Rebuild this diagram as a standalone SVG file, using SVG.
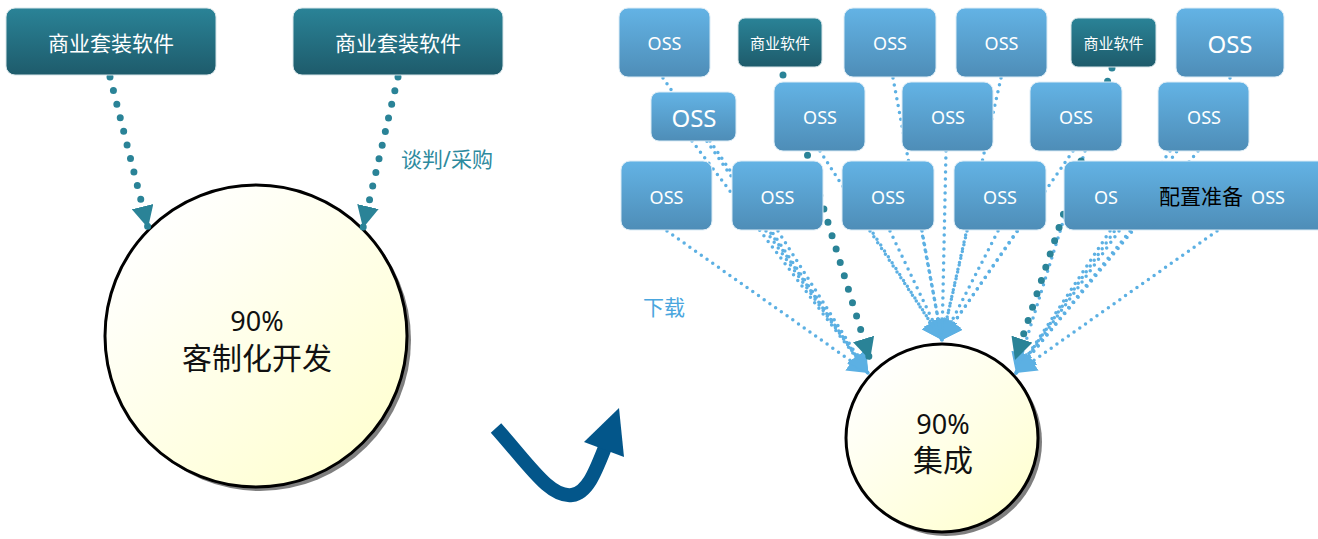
<svg xmlns="http://www.w3.org/2000/svg" width="1318" height="539" viewBox="0 0 1318 539">
<defs>
<linearGradient id="gTeal" x1="0" y1="0" x2="0" y2="1"><stop offset="0" stop-color="#2a8397"/><stop offset="1" stop-color="#1e5b6b"/></linearGradient>
<linearGradient id="gBlue" x1="0" y1="0" x2="0" y2="1"><stop offset="0" stop-color="#63b3e5"/><stop offset="1" stop-color="#4e8db7"/></linearGradient>
<linearGradient id="gCircle" x1="0.15" y1="0.1" x2="0.85" y2="0.9"><stop offset="0" stop-color="#ffffff"/><stop offset="1" stop-color="#ffffd2"/></linearGradient>
<marker id="aTeal" markerUnits="userSpaceOnUse" markerWidth="22" markerHeight="22" viewBox="0 0 22 22" refX="22" refY="11" orient="auto"><path d="M0,0 L22,11 L0,22 z" fill="#2a8397"/></marker>
<marker id="aBlue" markerUnits="userSpaceOnUse" markerWidth="20" markerHeight="22" viewBox="0 0 20 22" refX="20" refY="11" orient="auto"><path d="M0,0 L20,11 L0,22 z" fill="#5cb0e3"/></marker>
</defs>
<style>
text{font-family:"Noto Sans","Noto Sans CJK SC",sans-serif;text-anchor:middle;dominant-baseline:central}
.box-teal{fill:url(#gTeal);stroke:#d8e6ea;stroke-width:1}
.box-blue{fill:url(#gBlue);stroke:#dcecf6;stroke-width:1}
.wt{fill:#ffffff}
.oss{fill:#ffffff;font-size:18px}
.ossL{fill:#ffffff;font-size:24px}
.circ{fill:url(#gCircle);stroke:#000;stroke-width:3}
.shadow{fill:#7f7f7f}
.ct{fill:#111;font-size:30px}
.pct{fill:#111;font-size:27px}
.tealdot{fill:none;stroke:#2a8397;stroke-width:7;stroke-linecap:round;stroke-dasharray:0 14}
.bluedot{fill:none;stroke:#5cb0e3;stroke-width:3.5;stroke-linecap:round;stroke-dasharray:0 7}
</style>

<!-- circles -->
<g id="circle-custom">
<circle class="shadow" cx="260" cy="340" r="151"/>
<circle class="circ" cx="256" cy="336" r="151"/>
<text class="pct" x="257" y="320">90%</text>
<text class="ct" x="257" y="357">客制化开发</text>
</g>
<g id="circle-integrate">
<ellipse class="shadow" cx="946" cy="442" rx="96" ry="94"/>
<ellipse class="circ" cx="942" cy="438" rx="96" ry="94"/>
<text class="pct" x="943" y="423">90%</text>
<text class="ct" x="943" y="459">集成</text>
</g>

<!-- connectors -->
<g id="connectors">
<path class="tealdot" d="M110 77 L148 228" marker-end="url(#aTeal)"/>
<path class="tealdot" d="M398 77 L363 228" marker-end="url(#aTeal)"/>
<!-- to left target -->
<path class="bluedot" d="M667 231 L868 373" marker-end="url(#aBlue)"/>
<path class="bluedot" d="M663 78 L868 373" marker-end="url(#aBlue)"/>
<path class="bluedot" d="M692 141 L868 373" marker-end="url(#aBlue)"/>
<path class="bluedot" d="M710 141 L868 373" marker-end="url(#aBlue)"/>
<path class="bluedot" d="M766 231 L868 373" marker-end="url(#aBlue)"/>
<path class="bluedot" d="M778 231 L868 373" marker-end="url(#aBlue)"/>
<!-- to center target -->
<path class="bluedot" d="M820 151 L942 340" marker-end="url(#aBlue)"/>
<path class="bluedot" d="M893 78 L942 340" marker-end="url(#aBlue)"/>
<path class="bluedot" d="M870 231 L942 340" marker-end="url(#aBlue)"/>
<path class="bluedot" d="M890 231 L942 340" marker-end="url(#aBlue)"/>
<path class="bluedot" d="M922 231 L942 340" marker-end="url(#aBlue)"/>
<path class="bluedot" d="M946 151 L942 340" marker-end="url(#aBlue)"/>
<path class="bluedot" d="M1001 78 L942 340" marker-end="url(#aBlue)"/>
<path class="bluedot" d="M967 231 L942 340" marker-end="url(#aBlue)"/>
<path class="bluedot" d="M998 231 L942 340" marker-end="url(#aBlue)"/>
<path class="bluedot" d="M1017 231 L942 340" marker-end="url(#aBlue)"/>
<path class="bluedot" d="M1073 151 L942 340" marker-end="url(#aBlue)"/>
<!-- to right target -->
<path class="bluedot" d="M1085 151 L1016 373" marker-end="url(#aBlue)"/>
<path class="bluedot" d="M1170 151 L1016 373" marker-end="url(#aBlue)"/>
<path class="bluedot" d="M1198 151 L1016 373" marker-end="url(#aBlue)"/>
<path class="bluedot" d="M1230 78 L1016 373" marker-end="url(#aBlue)"/>
<path class="bluedot" d="M1110 231 L1016 373" marker-end="url(#aBlue)"/>
<path class="bluedot" d="M1130 231 L1016 373" marker-end="url(#aBlue)"/>
<path class="bluedot" d="M1217 231 L1016 373" marker-end="url(#aBlue)"/>
<!-- teal from 商业软件 -->
<path class="tealdot" d="M783 75 L870 360" marker-end="url(#aTeal)"/>
<path class="tealdot" d="M1112 68 L1015 360" marker-end="url(#aTeal)"/>
</g>

<!-- left boxes -->
<g id="pkg-1"><rect class="box-teal" x="6" y="8" width="210" height="67" rx="9"/><text class="wt" x="111" y="43" font-size="21">商业套装软件</text></g>
<g id="pkg-2"><rect class="box-teal" x="293" y="8" width="210" height="67" rx="9"/><text class="wt" x="398" y="43" font-size="21">商业套装软件</text></g>
<text x="447" y="159" font-size="21" fill="#2d8a9e">谈判/采购</text>

<!-- row 1 -->
<g id="oss-a"><rect class="box-blue" x="619" y="8" width="91" height="69" rx="9"/><text class="oss" x="664.5" y="43">OSS</text></g>
<g id="sw-1"><rect class="box-teal" x="738" y="18" width="84" height="49" rx="7"/><text class="wt" x="780" y="43" font-size="15">商业软件</text></g>
<g id="oss-b"><rect class="box-blue" x="844" y="8" width="92" height="69" rx="9"/><text class="oss" x="890" y="43">OSS</text></g>
<g id="oss-c"><rect class="box-blue" x="956" y="8" width="91" height="69" rx="9"/><text class="oss" x="1001.5" y="43">OSS</text></g>
<g id="sw-2"><rect class="box-teal" x="1071" y="18" width="85" height="49" rx="7"/><text class="wt" x="1113.5" y="43" font-size="15">商业软件</text></g>
<g id="oss-d"><rect class="box-blue" x="1176" y="8" width="108" height="69" rx="9"/><text class="ossL" x="1230" y="43">OSS</text></g>

<!-- row 2 -->
<g id="oss-e"><rect class="box-blue" x="651" y="92" width="85" height="49" rx="8"/><text class="ossL" x="694" y="117">OSS</text></g>
<g id="oss-f"><rect class="box-blue" x="774" y="82" width="91" height="69" rx="9"/><text class="oss" x="820" y="117">OSS</text></g>
<g id="oss-g"><rect class="box-blue" x="902" y="82" width="91" height="69" rx="9"/><text class="oss" x="948" y="117">OSS</text></g>
<g id="oss-h"><rect class="box-blue" x="1030" y="82" width="92" height="69" rx="9"/><text class="oss" x="1076" y="117">OSS</text></g>
<g id="oss-i"><rect class="box-blue" x="1158" y="82" width="91" height="69" rx="9"/><text class="oss" x="1204" y="117">OSS</text></g>

<!-- row 3 -->
<g id="oss-j"><rect class="box-blue" x="621" y="161" width="91" height="69" rx="9"/><text class="oss" x="666.5" y="197">OSS</text></g>
<g id="oss-k"><rect class="box-blue" x="732" y="161" width="91" height="69" rx="9"/><text class="oss" x="777.5" y="197">OSS</text></g>
<g id="oss-l"><rect class="box-blue" x="842" y="161" width="92" height="69" rx="9"/><text class="oss" x="888" y="197">OSS</text></g>
<g id="oss-m"><rect class="box-blue" x="954" y="161" width="92" height="69" rx="9"/><text class="oss" x="1000" y="197">OSS</text></g>
<g id="oss-config"><rect class="box-blue" x="1064" y="161" width="270" height="69" rx="9"/><text class="oss" x="1106" y="197">OS</text><text x="1201" y="196" font-size="21" fill="#000">配置准备</text><text class="oss" x="1268" y="197">OSS</text></g>

<text x="664" y="307" font-size="21" fill="#4aa6de">下载</text>

<!-- transition arrow -->
<g id="transition-arrow">
<path d="M496 428 C530 466 550 498 572 495 C588 493 596 470 606 445" fill="none" stroke="#03568a" stroke-width="14"/>
<polygon points="584,442 619,408 624,457" fill="#03568a"/>
</g>
</svg>
